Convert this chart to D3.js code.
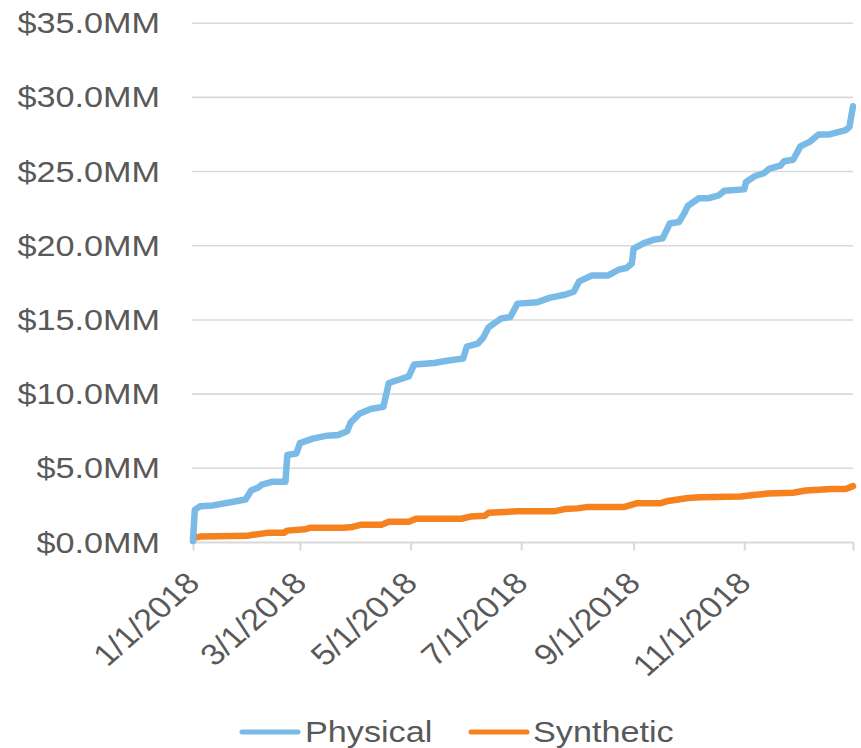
<!DOCTYPE html>
<html>
<head>
<meta charset="utf-8">
<script src="https://cdn.jsdelivr.net/npm/d3@7"></script>
<style>
  html, body { margin: 0; padding: 0; background: #fff; }
  svg { display: block; }
  text { font-family: "Liberation Sans", Arial, sans-serif; fill: #595959; }
</style>
</head>
<body>
<svg id="chart" width="861" height="748"></svg>
<script>
// ---- data ----
const physicalDates = ["2018-01-01","2018-01-02","2018-01-05","2018-01-12","2018-01-21","2018-01-30","2018-02-02","2018-02-06","2018-02-08","2018-02-14","2018-02-21","2018-02-22","2018-02-27","2018-03-01","2018-03-08","2018-03-16","2018-03-22","2018-03-27","2018-03-29","2018-04-03","2018-04-09","2018-04-16","2018-04-19","2018-04-24","2018-04-30","2018-05-03","2018-05-14","2018-05-21","2018-05-30","2018-06-01","2018-06-07","2018-06-10","2018-06-13","2018-06-20","2018-06-25","2018-06-29","2018-07-10","2018-07-17","2018-07-25","2018-07-30","2018-08-02","2018-08-09","2018-08-18","2018-08-24","2018-08-28","2018-08-31","2018-09-01","2018-09-07","2018-09-12","2018-09-17","2018-09-21","2018-09-26","2018-09-29","2018-10-01","2018-10-07","2018-10-12","2018-10-18","2018-10-21","2018-11-01","2018-11-02","2018-11-07","2018-11-12","2018-11-15","2018-11-21","2018-11-23","2018-11-28","2018-12-02","2018-12-07","2018-12-12","2018-12-18","2018-12-27","2018-12-29","2018-12-31"];
const physicalValues = [0.1,2.2,2.45,2.5,2.7,2.9,3.5,3.7,3.9,4.1,4.1,5.9,6.0,6.7,7.0,7.2,7.25,7.5,8.1,8.7,9.0,9.15,10.75,10.95,11.2,12.0,12.1,12.25,12.4,13.2,13.4,13.8,14.5,15.1,15.2,16.1,16.2,16.5,16.7,16.9,17.6,18.0,18.0,18.4,18.5,18.8,19.8,20.2,20.4,20.5,21.5,21.6,22.2,22.7,23.2,23.2,23.4,23.7,23.8,24.3,24.7,24.9,25.2,25.4,25.7,25.8,26.7,27.0,27.5,27.5,27.8,28.0,29.4];

const syntheticDates = ["2018-01-01","2018-01-05","2018-01-31","2018-02-02","2018-02-11","2018-02-20","2018-02-22","2018-03-04","2018-03-07","2018-03-25","2018-03-30","2018-04-04","2018-04-15","2018-04-19","2018-04-30","2018-05-04","2018-05-29","2018-06-03","2018-06-11","2018-06-13","2018-06-29","2018-07-19","2018-07-25","2018-08-01","2018-08-07","2018-08-27","2018-09-03","2018-09-16","2018-09-20","2018-10-01","2018-10-08","2018-10-30","2018-11-06","2018-11-14","2018-11-28","2018-12-05","2018-12-19","2018-12-27","2018-12-31"];
const syntheticValues = [0.3,0.4,0.45,0.5,0.65,0.65,0.8,0.9,1.0,1.0,1.05,1.2,1.2,1.4,1.4,1.6,1.6,1.75,1.8,2.0,2.1,2.1,2.25,2.3,2.4,2.4,2.65,2.65,2.8,3.0,3.05,3.1,3.2,3.3,3.35,3.5,3.6,3.6,3.8];

const yTickValues = [0, 5, 10, 15, 20, 25, 30, 35];
const xTickDates = ["2018-01-01","2018-03-01","2018-05-01","2018-07-01","2018-09-01","2018-11-01"];
const seriesNames = ["Physical", "Synthetic"];
const seriesColors = ["#79bbe6", "#f5821f"];

// ---- setup ----
const parse = d3.timeParse("%Y-%m-%d");
const fmtX = d => `${d.getMonth() + 1}/${d.getDate()}/${d.getFullYear()}`;
const fmtY = v => `$${v.toFixed(1)}MM`;
const svg = d3.select("#chart");
const pLeft = 193, pRight = 853, pTop = 23.2, pBottom = 542.5;
const STRETCH = 1.14;
const FS = "30px";

const x = d3.scaleTime().domain([parse("2018-01-01"), parse("2018-12-31")]).range([pLeft, pRight]);
const y = d3.scaleLinear().domain([0, 35]).range([pBottom, pTop]);

// gridlines
svg.append("g").selectAll("line").data(yTickValues.filter(v => v > 0)).join("line")
  .attr("x1", pLeft - 1).attr("x2", pRight)
  .attr("y1", d => y(d)).attr("y2", d => y(d))
  .attr("stroke", "#d9d9d9").attr("stroke-width", 1.6);

// y labels
svg.append("g").selectAll("text").data(yTickValues).join("text")
  .attr("transform", d => `translate(160,${y(d) + 10}) scale(${STRETCH},1)`)
  .attr("text-anchor", "end")
  .style("font-size", FS)
  .text(fmtY);

// x axis line + ticks
const xAxis = d3.axisBottom(x)
  .tickValues(xTickDates.map(parse).concat([parse("2018-12-31")]))
  .tickSize(8).tickFormat("");
const gx = svg.append("g").attr("transform", `translate(0,${pBottom})`).call(xAxis);
gx.select(".domain").attr("stroke", "#d9d9d9").attr("stroke-width", 2).attr("d", `M${pLeft - 1},0H${pRight + 1}`);
gx.selectAll(".tick line").attr("stroke", "#d9d9d9").attr("stroke-width", 2);

// x labels (rotated)
svg.append("g").selectAll("text").data(xTickDates.map(parse)).join("text")
  .attr("transform", d => `translate(${x(d) + 8.5},585) scale(${STRETCH},1) rotate(-45)`)
  .attr("text-anchor", "end")
  .style("font-size", FS)
  .text(fmtX);

// lines
const line = d3.line().x(d => x(d[0])).y(d => y(d[1]));
const physical = physicalDates.map((d, i) => [parse(d), physicalValues[i]]);
const synthetic = syntheticDates.map((d, i) => [parse(d), syntheticValues[i]]);

[[synthetic, 1], [physical, 0]].forEach(([data, idx]) => {
  svg.append("path").datum(data)
    .attr("d", line)
    .attr("fill", "none")
    .attr("stroke", seriesColors[idx])
    .attr("stroke-width", 6.5)
    .attr("stroke-linejoin", "round")
    .attr("stroke-linecap", "round");
});

// legend
const legendItems = [
  { name: seriesNames[0], color: seriesColors[0], x0: 240, tx: 305 },
  { name: seriesNames[1], color: seriesColors[1], x0: 469, tx: 533 }
];
const lg = svg.append("g");
legendItems.forEach(it => {
  lg.append("line").attr("x1", it.x0 + 2).attr("x2", it.x0 + 58)
    .attr("y1", 732).attr("y2", 732)
    .attr("stroke", it.color).attr("stroke-width", 5).attr("stroke-linecap", "round");
  lg.append("text").attr("transform", `translate(${it.tx},742) scale(${STRETCH},1)`)
    .style("font-size", FS).text(it.name);
});
</script>
</body>
</html>
